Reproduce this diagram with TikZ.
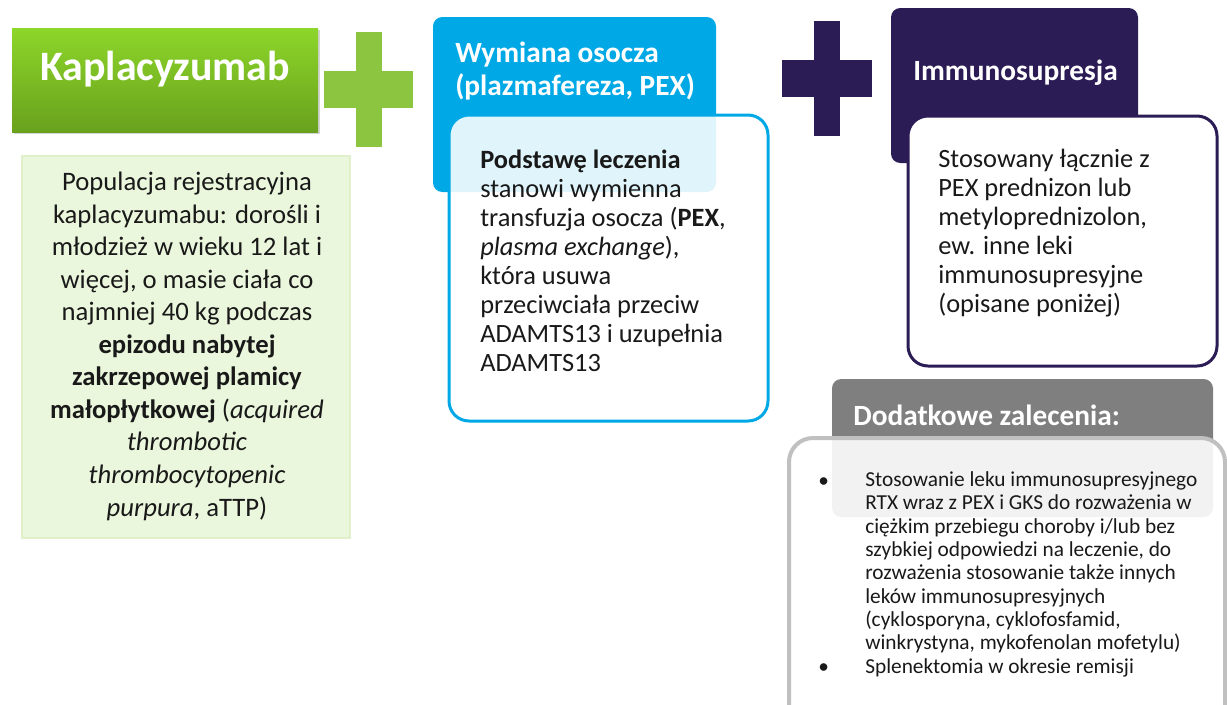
\documentclass[tikz,border=0pt]{standalone}
\usepackage{fontspec}
\setmainfont{Carlito}
\usetikzlibrary{positioning,fit,shadows}

\definecolor{kapTop}{HTML}{8DD62A}
\definecolor{kapBot}{HTML}{69A11D}
\definecolor{plusGreen}{HTML}{8CC540}
\definecolor{paleGreen}{HTML}{EBF7DC}
\definecolor{paleEdge}{HTML}{DFF0CB}
\definecolor{pexBlue}{HTML}{00A8E6}
\definecolor{immPurple}{HTML}{2B1C55}
\definecolor{recGray}{HTML}{7F7F7F}
\definecolor{recEdge}{HTML}{C0C0C0}

\begin{document}
\begin{tikzpicture}[x=0.75pt,y=-0.75pt,
		every fit/.style={inner sep=0pt},
		bar/.style={fill=#1, inner sep=0pt},
		headbox/.style={fill=#1, rounded corners=7pt},
		cardbox/.style={draw=#1, line width=2.25pt, rounded corners=15pt},
		title/.style={text=white, inner sep=0pt, align=left, font=\bfseries\fontsize{22}{24.75}\selectfont},
		body/.style={inner sep=0pt, align=left, text=black!90, font=\fontsize{19.8}{21.75}\selectfont},
		small/.style={body, font=\fontsize{16}{17.5}\selectfont}]
	\useasboundingbox (0,0) rectangle (1227,704);

	% kaplacyzumab (text nodes sit on the baseline of their last line)
	\node[fit={(12,28) (318,132)}, top color=kapTop, bottom color=kapBot,
		drop shadow={shadow xshift=1.5pt, shadow yshift=-1.5pt, opacity=0.35}] (kap) {};
	\node[title, anchor=base, font=\bfseries\fontsize{31.4}{38}\selectfont] at (165,80) (kapT) {Kaplacyzumab};
	\node[fit={(22,156) (350,538)}, fill=paleGreen, draw=paleEdge, line width=1.5pt] (pop) {};
	\node[body, align=center, anchor=base, font=\fontsize{20}{24.4}\selectfont] at (187,516) (popT)
		{Populacja rejestracyjna\\ kaplacyzumabu: dorośli i\\ młodzież w wieku 12 lat i\\
		 więcej, o masie ciała co\\ najmniej 40 kg podczas\\ \textbf{epizodu nabytej}\\
		 \textbf{zakrzepowej plamicy}\\ \textbf{małopłytkowej} (\textit{acquired}\\
		 \textit{thrombotic}\\ \textit{thrombocytopenic}\\ \textit{purpura}, aTTP)};

	% plus 1
	\node[bar=plusGreen, fit={(356,32) (382,147)}] (plusAv) {};
	\node[bar=plusGreen, fit={(324,71) (413,108)}] (plusAh) {};

	% plazmafereza
	\node[headbox=pexBlue, fit={(433,17) (716,192)}] (pex) {};
	\node[title, anchor=base west] at (455,95) (pexT) {Wymiana osocza\\ (plazmafereza, PEX)};
	\node[cardbox=pexBlue, fill=white, fill opacity=0.88, fit={(449,115) (768,421)}] (pexC) {};
	\node[body, anchor=base west] at (480,371) (pexB)
		{\textbf{Podstawę leczenia}\\ stanowi wymienna\\ transfuzja osocza (\textbf{PEX},\\
		 \textit{plasma exchange}),\\ która usuwa\\ przeciwciała przeciw\\
		 ADAMTS13 i uzupełnia\\ ADAMTS13};

	% plus 2
	\node[bar=immPurple, fit={(814,21) (840,136)}] (plusBv) {};
	\node[bar=immPurple, fit={(782,60) (872,97)}] (plusBh) {};

	% immunosupresja
	\node[headbox=immPurple, fit={(891,8) (1138,163)}] (imm) {};
	\node[title, anchor=base west] at (913,80) (immT) {Immunosupresja};
	\node[cardbox=immPurple, fill=white, fit={(908,116) (1217,366)}] (immC) {};
	\node[body, anchor=base west] at (938,312) (immB)
		{Stosowany łącznie z\\ PEX prednizon lub\\ metyloprednizolon,\\
		 ew. inne leki\\ immunosupresyjne\\ (opisane poniżej)};

	% dodatkowe zalecenia
	\node[headbox=recGray, fit={(832,379) (1213,517)}] (rec) {};
	\node[title, anchor=base west] at (853,425) (recT) {Dodatkowe zalecenia:};
	\node[cardbox=recEdge, line width=3pt, rounded corners=18pt, fill=white, fill opacity=0.9,
		fit={(789,438) (1225,735)}] (recC) {};
	\node[small, anchor=base west] at (865,673) (recB)
		{Stosowanie leku immunosupresyjnego\\ RTX wraz z PEX i GKS do rozważenia w\\
		 ciężkim przebiegu choroby i/lub bez\\ szybkiej odpowiedzi na leczenie, do\\
		 rozważenia stosowanie także innych\\ leków immunosupresyjnych\\
		 (cyklosporyna, cyklofosfamid,\\ winkrystyna, mykofenolan mofetylu)\\
		 Splenektomia w okresie remisji};
	\node[small, anchor=base west] at (818,487) (bul1) {\textbullet};
	\node[small, anchor=base west] at (818,673) (bul2) {\textbullet};
\end{tikzpicture}
\end{document}
